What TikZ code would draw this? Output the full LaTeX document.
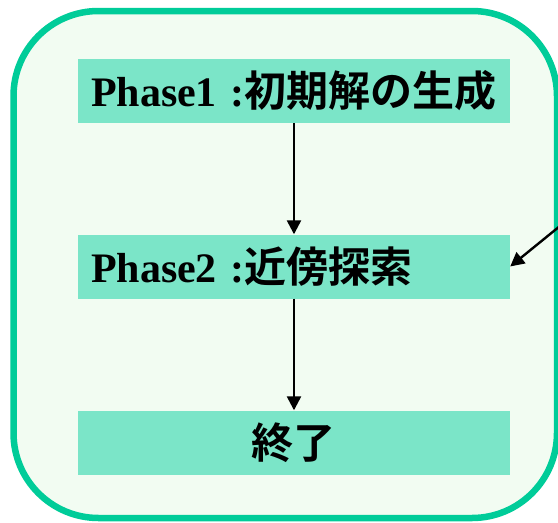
\documentclass[tikz,border=0pt]{standalone}
\usepackage{fontspec}
\setmainfont{Liberation Serif}
\newfontfamily\cjk[BoldFont={Noto Sans CJK JP Bold}]{Noto Sans CJK JP}
\newcommand{\jp}[1]{{\fontsize{42}{44}\selectfont\cjk\bfseries #1}}
\usetikzlibrary{arrows.meta}
\definecolor{frame}{HTML}{00CC99}
\definecolor{bgc}{HTML}{F2FCF2}
\definecolor{boxc}{HTML}{7BE5C8}
\begin{document}
\begin{tikzpicture}[x=1pt,y=-1pt,
  phase/.style={fill=boxc, draw=none, minimum height=64pt, text width=406pt, inner xsep=13pt, inner ysep=0pt, font=\fontsize{42}{44}\selectfont\bfseries},
  conn/.style={line width=2.4pt, -{Triangle[length=14pt,width=14pt]}}]
\useasboundingbox (0,0) rectangle (558,523);
\draw[line width=6.5pt, draw=frame, fill=bgc, rounded corners=85pt] (13.5,11) rectangle (557,518);
\node[phase, align=left] (p1) at (294,91) {Phase1 :\jp{初期解の生成}};
\node[phase, align=left] (p2) at (294,266.5) {Phase2 :\jp{近傍探索}};
\node[phase, align=center] (p3) at (294,442.5) {\jp{終了}};
\coordinate (src) at (560,226);
\draw[conn] (p1) -- (p2);
\draw[conn] (p2) -- (p3);
\draw[conn] (src) -- (p2.east);
\end{tikzpicture}
\end{document}
